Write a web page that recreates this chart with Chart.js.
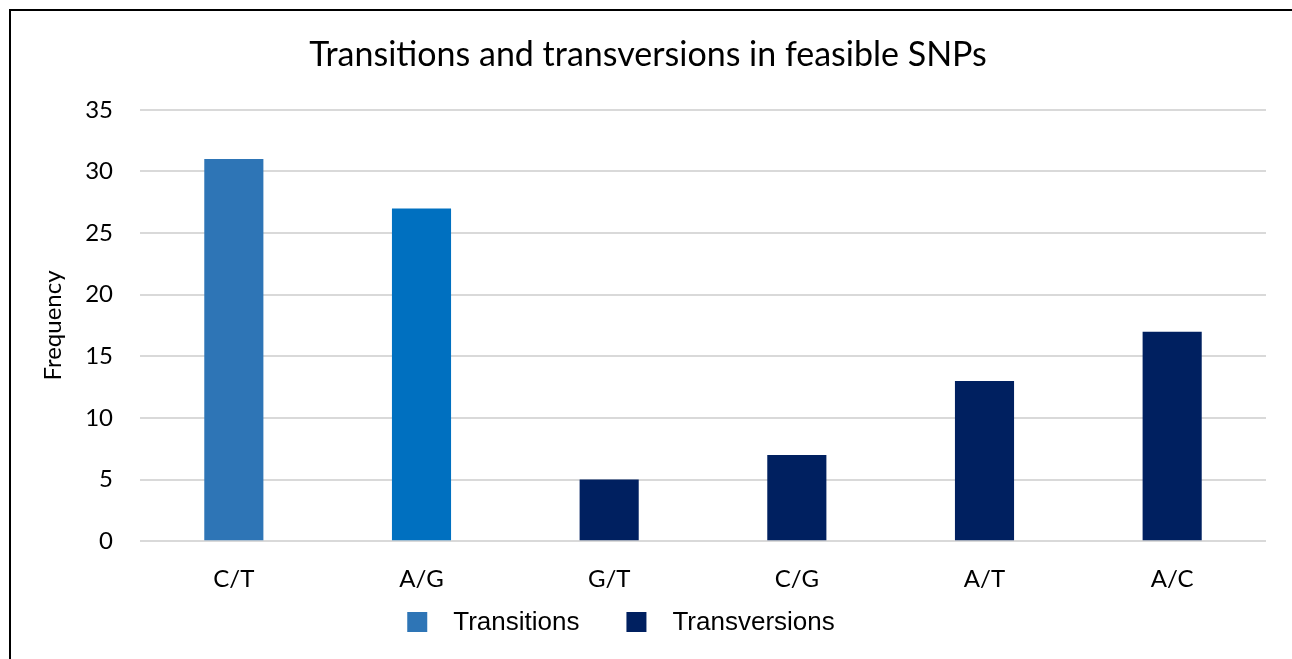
<!DOCTYPE html>
<html>
<head>
<meta charset="utf-8">
<title>Transitions and transversions in feasible SNPs</title>
<script src="https://cdn.jsdelivr.net/npm/chart.js@4.4.1/dist/chart.umd.min.js"></script>
<style>
  html, body { margin: 0; padding: 0; background: #fff; }
</style>
</head>
<body>
<canvas id="snpChart" width="1292" height="659"></canvas>
<script>
// SNP substitution types and how often each one shows up
const categories = ['C/T', 'A/G', 'G/T', 'C/G', 'A/T', 'A/C'];
const transitions = [31, 27, null, null, null, null];
const transversions = [null, null, 5, 7, 13, 17];

// y axis range
const yMax = 35;
const yStep = 5;

// colours (the two transition bars use slightly different blues)
const transitionColors = ['#2E75B6', '#0070C0', '#2E75B6', '#2E75B6', '#2E75B6', '#2E75B6'];
const transversionColor = '#002060';
const legendColors = ['#2E75B6', '#002060'];

const FONT = 'Lato, "Open Sans", sans-serif';

// white background + the black frame on the top and left edges
const framePlugin = {
    id: 'frame',
    beforeDraw(chart) {
        const ctx = chart.ctx;
        ctx.save();
        ctx.fillStyle = '#fff';
        ctx.fillRect(0, 0, chart.width, chart.height);
        ctx.strokeStyle = '#000';
        ctx.lineWidth = 2;
        ctx.beginPath();
        ctx.moveTo(10, chart.height);
        ctx.lineTo(10, 10);
        ctx.lineTo(chart.width, 10);
        ctx.stroke();
        ctx.restore();
    }
};

// legend under the axis, square swatch then label
const legendPlugin = {
    id: 'bottomLegend',
    afterDraw(chart) {
        const ctx = chart.ctx;
        const box = 20, textGap = 26, itemGap = 47;
        const y = 622;
        ctx.save();
        ctx.font = '26px "Liberation Sans", Arial, sans-serif';
        ctx.textBaseline = 'middle';
        ctx.textAlign = 'left';
        const items = chart.data.datasets.map((ds, i) => ({
            text: ds.label,
            color: legendColors[i],
            w: ctx.measureText(ds.label).width
        }));
        const total = items.reduce((s, it) => s + box + textGap + it.w, 0) + itemGap * (items.length - 1);
        let x = chart.width / 2 - 25 - total / 2;
        items.forEach(it => {
            ctx.fillStyle = it.color;
            ctx.fillRect(x, y - box / 2, box, box);
            ctx.fillStyle = '#000';
            ctx.fillText(it.text, x + box + textGap, y + 1);
            x += box + textGap + it.w + itemGap;
        });
        ctx.restore();
    }
};

new Chart(document.getElementById('snpChart'), {
    type: 'bar',
    data: {
        labels: categories,
        datasets: [
            {
                label: 'Transitions',
                data: transitions,
                backgroundColor: transitionColors
            },
            {
                label: 'Transversions',
                data: transversions,
                backgroundColor: transversionColor
            }
        ]
    },
    options: {
        responsive: false,
        animation: false,
        skipNull: true,
        categoryPercentage: 1,
        barPercentage: 0.315,
        layout: {
            padding: { left: 30, right: 26, top: 0, bottom: 49 }
        },
        plugins: {
            legend: { display: false },
            tooltip: { enabled: false },
            title: {
                display: true,
                text: 'Transitions and transversions in feasible SNPs',
                color: '#000',
                font: { family: FONT, size: 34, weight: 'normal' },
                padding: { top: 35, bottom: 34 }
            }
        },
        scales: {
            x: {
                grid: { display: false },
                border: { display: false },
                ticks: {
                    color: '#000',
                    font: { family: FONT, size: 24 },
                    padding: 16
                }
            },
            y: {
                min: 0,
                max: yMax,
                afterFit(scale) { scale.width = 110; },
                grid: { color: '#D9D9D9', lineWidth: 2, drawTicks: false },
                border: { display: false },
                ticks: {
                    stepSize: yStep,
                    color: '#000',
                    font: { family: FONT, size: 24 },
                    padding: 27
                },
                title: {
                    display: true,
                    text: 'Frequency',
                    color: '#000',
                    font: { family: FONT, size: 24 },
                    padding: { top: 9, bottom: 0 }
                }
            }
        }
    },
    plugins: [framePlugin, legendPlugin]
});
</script>
</body>
</html>
